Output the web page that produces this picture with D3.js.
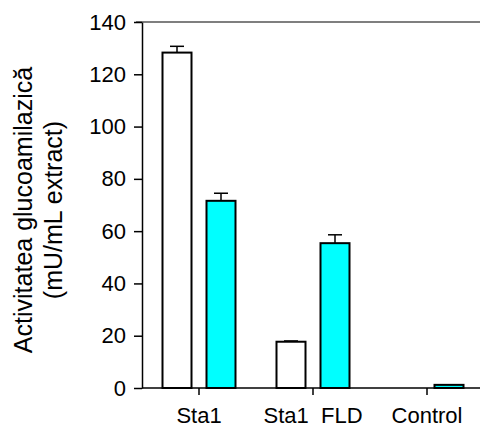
<!DOCTYPE html>
<html>
<head>
<meta charset="utf-8">
<script src="https://cdn.jsdelivr.net/npm/d3@7"></script>
<style>
  body { margin: 0; background: #fff; }
  text { font-family: "Liberation Sans", Arial, sans-serif; fill: #000; }
</style>
</head>
<body>
<div class="container"></div>
<script>
var groups = ["Sta1", "Sta1  FLD", "Control"];
var series = ["alb", "cyan"];
var values_alb = [128.3, 17.7, 0];
var values_cyan = [71.6, 55.4, 1.2];
var err_alb = [2.4, 0.3, 0];
var err_cyan = [2.9, 3.2, 0];
var y_ticks = [0, 20, 40, 60, 80, 100, 120, 140];

var width = 480;
var height = 428;
var plot_left = 142, plot_right = 484, plot_top = 22, plot_bottom = 388;

var svg = d3.select(".container").append("svg")
    .attr("width", width)
    .attr("height", height);

var x = d3.scaleBand().domain(groups).range([plot_left, plot_right]);
var xSub = d3.scaleBand().domain(series).range([20.5, 93.5]).paddingInner(15 / 44);
var y = d3.scaleLinear().domain([0, 140]).range([plot_bottom, plot_top]);

var rows = groups.map(function(g, i) {
    return [
        {group: g, s: "alb", v: values_alb[i], e: err_alb[i]},
        {group: g, s: "cyan", v: values_cyan[i], e: err_cyan[i]}
    ];
});

// top frame line
svg.append("line")
    .attr("x1", plot_left - 6).attr("x2", width)
    .attr("y1", y(140)).attr("y2", y(140))
    .attr("stroke", "#555").attr("stroke-width", 1.5);

var groupG = svg.selectAll("g.group")
    .data(rows)
    .enter()
    .append("g")
    .classed("group", true)
    .attr("transform", function(d, i) { return "translate(" + x(groups[i]) + ",0)"; });

var bars = groupG.selectAll("g.bar")
    .data(function(d) { return d; })
    .enter()
    .append("g")
    .classed("bar", true);

// error bars (upper only)
bars.filter(function(d) { return d.e > 0; })
    .append("line")
    .attr("x1", function(d) { return xSub(d.s) + xSub.bandwidth() / 2; })
    .attr("x2", function(d) { return xSub(d.s) + xSub.bandwidth() / 2; })
    .attr("y1", function(d) { return y(d.v); })
    .attr("y2", function(d) { return y(d.v + d.e); })
    .attr("stroke", "#000").attr("stroke-width", 1.5);

bars.filter(function(d) { return d.e > 0; })
    .append("line")
    .attr("x1", function(d) { return xSub(d.s) + xSub.bandwidth() / 2 - 7; })
    .attr("x2", function(d) { return xSub(d.s) + xSub.bandwidth() / 2 + 7; })
    .attr("y1", function(d) { return y(d.v + d.e); })
    .attr("y2", function(d) { return y(d.v + d.e); })
    .attr("stroke", "#000").attr("stroke-width", 1.5);

bars.filter(function(d) { return d.v > 0; })
    .append("rect")
    .attr("x", function(d) { return xSub(d.s); })
    .attr("y", function(d) { return y(d.v); })
    .attr("width", xSub.bandwidth())
    .attr("height", function(d) { return y(0) - y(d.v); })
    .attr("fill", function(d) { return d.s === "cyan" ? "#00ffff" : "#fff"; })
    .attr("stroke", "#000")
    .attr("stroke-width", 2);

// axes
var yAxis = d3.axisLeft(y).tickValues(y_ticks).tickSize(8).tickPadding(8).tickSizeOuter(0);
var gy = svg.append("g")
    .attr("transform", "translate(" + plot_left + ",0)")
    .call(yAxis);
gy.select(".domain").attr("stroke", "#000").attr("stroke-width", 1.5);
gy.selectAll(".tick line").attr("stroke", "#000").attr("stroke-width", 1.5);
gy.selectAll(".tick text").attr("font-size", 22).attr("font-family", "Liberation Sans, Arial, sans-serif");

var xAxis = d3.axisBottom(x).tickSize(7).tickPadding(12).tickSizeOuter(0);
var gx = svg.append("g")
    .attr("transform", "translate(0," + plot_bottom + ")")
    .call(xAxis);
gx.select(".domain").attr("d", "M" + plot_left + ",0H" + width).attr("stroke", "#000").attr("stroke-width", 1.5);
gx.selectAll(".tick line").attr("stroke", "#000").attr("stroke-width", 1.5);
gx.selectAll(".tick text").attr("font-size", 22).attr("font-family", "Liberation Sans, Arial, sans-serif")
    .style("white-space", "pre");

// y label
var yl = svg.append("text")
    .attr("transform", "translate(32,210) rotate(-90)")
    .attr("text-anchor", "middle")
    .attr("font-size", 25);
yl.append("tspan").attr("x", 0).attr("dy", 0).text("Activitatea glucoamilazică");
yl.append("tspan").attr("x", 0).attr("dy", 30).text("(mU/mL extract)");
</script>
</body>
</html>
